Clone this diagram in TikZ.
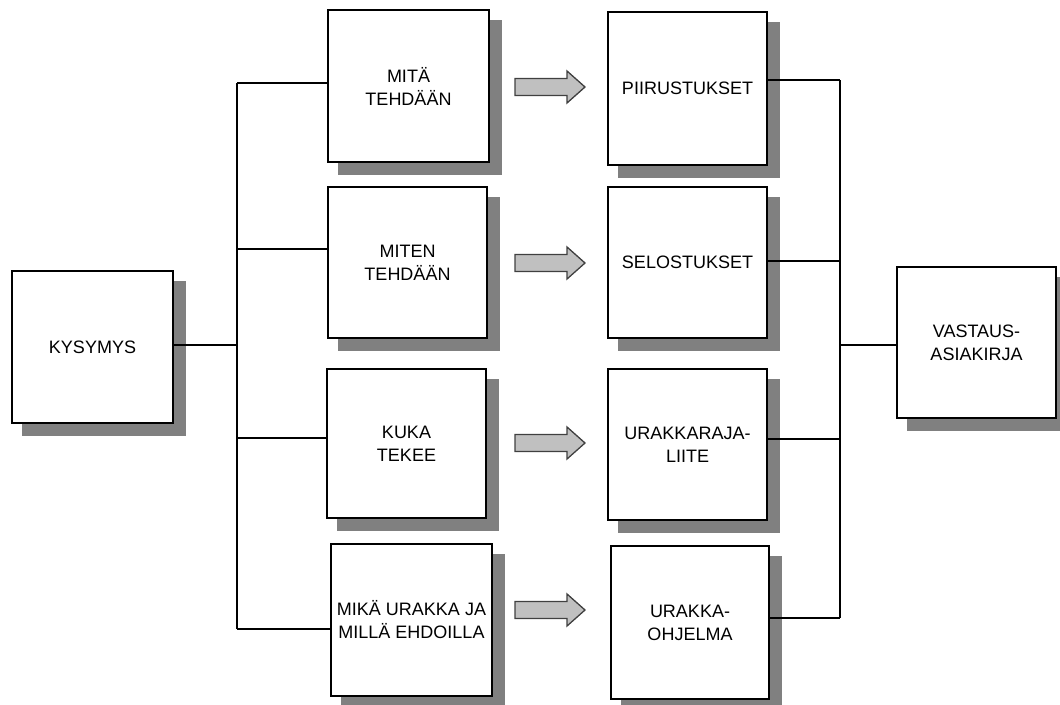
\documentclass[tikz,border=0pt]{standalone}
\usepackage{fontspec}
\setmainfont{Liberation Sans}
\usetikzlibrary{shadows}
\definecolor{shadowgray}{HTML}{808080}
\definecolor{arrowfill}{HTML}{C0C0C0}
\definecolor{arrowline}{HTML}{404040}
\begin{document}
\begin{tikzpicture}[x=1pt,y=-1pt,
  boxnode/.style={draw=black,line width=1.6pt,fill=white,inner sep=0pt,
    align=center,font=\fontsize{18}{23}\selectfont,
    drop shadow={shadow xshift=11.5pt,shadow yshift=-11.5pt,shadow scale=1.02,fill=shadowgray,opacity=1}},
  conn/.style={draw=black,line width=1.6pt},
  blockarrow/.style={fill=arrowfill,draw=arrowline,line width=1.3pt,line join=miter}]
\useasboundingbox (0,0) rectangle (1060,704);

% boxes
\node[boxnode,minimum width=161pt,minimum height=152pt] (K) at (92.5,347) {KYSYMYS};
\node[boxnode,minimum width=161pt,minimum height=152pt] (M1) at (408.5,86) {MITÄ\\TEHDÄÄN};
\node[boxnode,minimum width=159pt,minimum height=151pt] (M2) at (407.5,262.5) {MITEN\\TEHDÄÄN};
\node[boxnode,minimum width=159pt,minimum height=149pt] (M3) at (406.5,443.5) {KUKA\\TEKEE};
\node[boxnode,minimum width=161pt,minimum height=152pt] (M4) at (411.5,620) {MIKÄ URAKKA JA\\MILLÄ EHDOILLA};
\node[boxnode,minimum width=159pt,minimum height=153pt] (R1) at (687.5,88.5) {PIIRUSTUKSET};
\node[boxnode,minimum width=159pt,minimum height=151pt] (R2) at (687.5,262.5) {SELOSTUKSET};
\node[boxnode,minimum width=159pt,minimum height=151pt] (R3) at (687.5,444.5) {URAKKARAJA-\\LIITE};
\node[boxnode,minimum width=158pt,minimum height=153pt] (R4) at (690,622.5) {URAKKA-\\OHJELMA};
\node[boxnode,minimum width=159pt,minimum height=151pt] (V) at (976.5,342.5) {VASTAUS-\\ASIAKIRJA};

% left bus
\coordinate (lt) at (237,83);
\coordinate (l2) at (237,249);
\coordinate (lk) at (237,345);
\coordinate (l3) at (237,438);
\coordinate (lb) at (237,629);
\draw[conn] (lt) -- (lb);
\draw[conn] (K.east |- lk) -- (lk);
\draw[conn] (lt) -- (lt -| M1.west);
\draw[conn] (l2) -- (l2 -| M2.west);
\draw[conn] (l3) -- (l3 -| M3.west);
\draw[conn] (lb) -- (lb -| M4.west);

% right bus
\coordinate (rt) at (840,80);
\coordinate (r2) at (840,261);
\coordinate (rv) at (840,345);
\coordinate (r3) at (840,439);
\coordinate (rb) at (840,618);
\draw[conn] (rt) -- (rb);
\draw[conn] (rt -| R1.east) -- (rt);
\draw[conn] (r2 -| R2.east) -- (r2);
\draw[conn] (r3 -| R3.east) -- (r3);
\draw[conn] (rb -| R4.east) -- (rb);
\draw[conn] (rv) -- (rv -| V.west);

% block arrows
\foreach \yy in {87,263,443,610}{
  \draw[blockarrow] (515,\yy-8.5) -- (567,\yy-8.5) -- (567,\yy-16) -- (585,\yy)
    -- (567,\yy+16) -- (567,\yy+8.5) -- (515,\yy+8.5) -- cycle;
}
\end{tikzpicture}
\end{document}
